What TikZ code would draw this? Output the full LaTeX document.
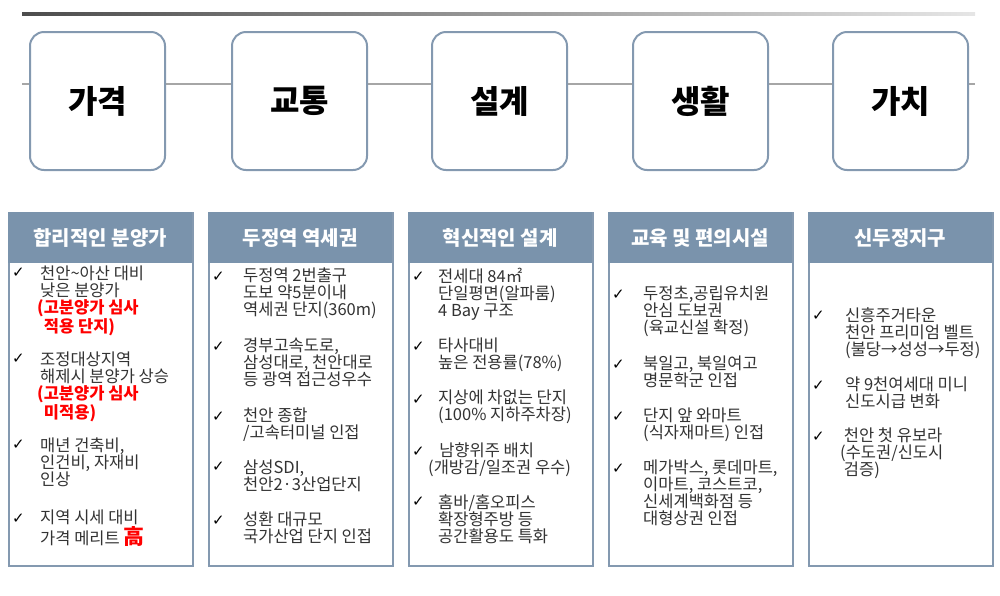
\documentclass[tikz,border=0pt]{standalone}
\usepackage{fontspec}
\setmainfont{Noto Sans CJK KR}
\newfontfamily\symf{DejaVu Sans}
\usetikzlibrary{shadings}
\definecolor{hdr}{HTML}{7A93AC}
\definecolor{bord}{HTML}{8499B0}
\definecolor{txt}{HTML}{333333}
\definecolor{myred}{HTML}{FF0000}
\tikzset{
 topbox/.style={draw=bord,line width=2pt,rounded corners=14pt,fill=white,minimum width=135pt,minimum height=138pt,font=\fontsize{32}{32}\selectfont\bfseries,text=black},
 colbox/.style={draw=bord,line width=1.5pt,fill=white,minimum width=184pt,minimum height=353pt,anchor=north west},
 hdrbox/.style={fill=hdr,minimum width=184pt,minimum height=51pt,anchor=north west,text=white,font=\fontsize{20}{20}\selectfont\bfseries},
 item/.style={anchor=north west,align=left,inner sep=0pt,text=txt,font=\fontsize{16.5}{17}\selectfont},
 chk/.style={anchor=north west,inner sep=0pt,text=black,font=\symf\fontsize{15}{15}\selectfont},
}
\newcommand{\rd}[1]{\textcolor{myred}{\bfseries #1}}
\begin{document}
\begin{tikzpicture}[x=1pt,y=-1pt]
\useasboundingbox (0,0) rectangle (1000,595);
\shade[left color=black!70,right color=black!10] (22,12.5) rectangle (975,15.5);
\draw[black!35,line width=2pt] (22,84) -- (975,84);
\foreach \n/\x/\t in {a/97.5/가격,b/299.5/교통,c/499.5/설계,d/700.5/생활,e/900.5/가치}
  \node[topbox] (\n) at (\x,101) {\t};
\foreach \n/\x/\t in {A/8/합리적인 분양가,B/208/두정역 역세권,C/408/혁신적인 설계,D/608/교육 및 편의시설,E/808/신두정지구}{
  \node[colbox] (\n) at (\x,212) {};
  \node[hdrbox] (\n h) at (\x,212) {\t};
}
% column 1
\foreach \y in {268,354,440,514} \node[chk] at (12,\y) {✓};
\node[item] (a1) at (40,266) {천안\textasciitilde 아산 대비\\낮은 분양가\\\hspace{-3pt}\rd{(고분양가 심사}\\\rd{\ 적용 단지)}};
\node[item] (a2) at (40,352) {조정대상지역\\해제시 분양가 상승\\\hspace{-3pt}\rd{(고분양가 심사}\\\rd{\ 미적용)}};
\node[item] (a3) at (40,438) {매년 건축비,\\인건비, 자재비\\인상};
\node[item] (a4) at (40,510) {지역 시세 대비\\가격 메리트 \textcolor{myred}{\bfseries\fontsize{21}{17}\selectfont 高}};
% column 2
\foreach \y in {272,342,412,462,516} \node[chk] at (212,\y) {✓};
\node[item] at (243,268) {두정역 2번출구\\도보 약5분이내\\역세권 단지(360m)};
\node[item] at (243,338) {경부고속도로,\\삼성대로, 천안대로\\등 광역 접근성우수};
\node[item] at (243,408) {천안 종합\\/고속터미널 인접};
\node[item] at (243,460) {삼성SDI,\\천안2·3산업단지};
\node[item] at (243,512) {성환 대규모\\국가산업 단지 인접};
% column 3
\foreach \y in {272,342,395,447,497} \node[chk] at (412,\y) {✓};
\node[item] at (438,268) {전세대 84㎡\\단일평면(알파룸)\\4 Bay 구조};
\node[item] at (438,338) {타사대비\\높은 전용률(78\%)};
\node[item] at (438,390) {지상에 차없는 단지\\(100\% 지하주차장)};
\node[item] at (428,443) {\ \ \ 남향위주 배치\\(개방감/일조권 우수)};
\node[item] at (438,494) {홈바/홈오피스\\확장형주방 등\\공간활용도 특화};
% column 4
\foreach \y in {290,360,412,464} \node[chk] at (612,\y) {✓};
\node[item] at (643,286) {두정초,공립유치원\\안심 도보권\\(육교신설 확정)};
\node[item] at (643,356) {북일고, 북일여고\\명문학군 인접};
\node[item] at (643,408) {단지 앞 와마트\\(식자재마트) 인접};
\node[item] at (643,460) {메가박스, 롯데마트,\\이마트, 코스트코,\\신세계백화점 등\\대형상권 인접};
% column 5
\foreach \y in {311,381,432} \node[chk] at (812,\y) {✓};
\node[item] at (845,307) {신흥주거타운\\천안 프리미엄 벨트\\(불당→성성→두정)};
\node[item] at (845,377) {약 9천여세대 미니\\신도시급 변화};
\node[item] at (840,428) {\ 천안 첫 유보라\\(수도권/신도시\\\ 검증)};
\end{tikzpicture}
\end{document}
